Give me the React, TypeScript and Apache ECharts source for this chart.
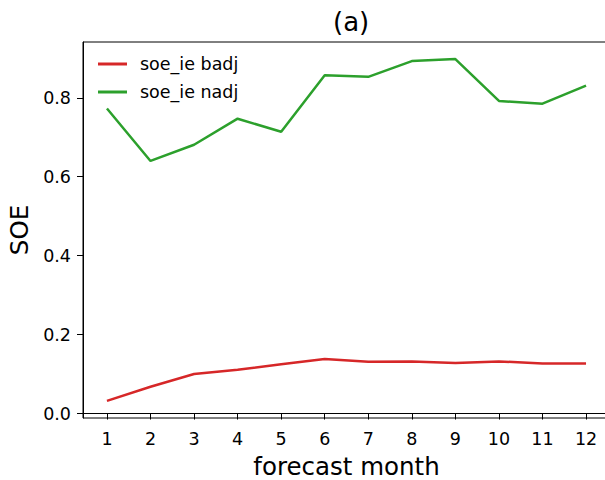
import React, { useEffect, useRef } from "react";
import * as echarts from "echarts";

const months = [1, 2, 3, 4, 5, 6, 7, 8, 9, 10, 11, 12];
const badj = [0.032, 0.068, 0.1, 0.111, 0.125, 0.138, 0.131, 0.132, 0.128, 0.132, 0.127, 0.127];
const nadj = [0.773, 0.64, 0.681, 0.747, 0.714, 0.857, 0.853, 0.893, 0.898, 0.792, 0.785, 0.831];
const yTicks = [0, 0.2, 0.4, 0.6, 0.8];
const seriesNames = ["soe_ie badj", "soe_ie nadj"];

const FONT = "DejaVu Sans";

export default function App() {
  const ref = useRef<HTMLDivElement>(null);
  useEffect(() => {
    if (!ref.current) return;
    const chart = echarts.init(ref.current, null, { renderer: "svg" });
    chart.setOption({
      animation: false,
      backgroundColor: "#ffffff",
      textStyle: { fontFamily: FONT },
      title: {
        text: "(a)",
        left: 328,
        top: 4,
        textStyle: { fontFamily: FONT, fontSize: 26, fontWeight: "normal", color: "#000" },
      },
      legend: {
        orient: "vertical",
        left: 98,
        top: 55,
        padding: 0,
        icon: "rect",
        itemWidth: 29,
        itemHeight: 3,
        itemGap: 10,
        data: seriesNames,
        textStyle: { fontFamily: FONT, fontSize: 17.5, color: "#000", padding: [0, 0, 0, 8] },
      },
      grid: {
        left: 83,
        top: 42,
        width: 527,
        height: 376,
        show: true,
        borderColor: "#000",
        borderWidth: 1,
        containLabel: false,
        outerBoundsMode: "none",
      },
      xAxis: {
        type: "value",
        min: 0.45,
        max: 12.55,
        name: "forecast month",
        nameLocation: "middle",
        nameGap: 36,
        nameTextStyle: { fontFamily: FONT, fontSize: 24.5, color: "#000" },
        axisLine: { show: true, lineStyle: { color: "#000", width: 1 } },
        axisTick: { show: true, length: 6, customValues: months, lineStyle: { color: "#000" } },
        axisLabel: {
          customValues: months,
          margin: 12,
          fontFamily: FONT,
          fontSize: 17.5,
          color: "#000",
          formatter: (v: number) => String(Math.round(v)),
        },
        splitLine: { show: false },
      },
      yAxis: {
        type: "value",
        min: -0.0113,
        max: 0.9413,
        name: "SOE",
        nameLocation: "middle",
        nameGap: 50,
        nameTextStyle: { fontFamily: FONT, fontSize: 24.5, color: "#000" },
        axisLine: { show: true, lineStyle: { color: "#000", width: 1 } },
        axisTick: { show: true, length: 6, customValues: yTicks, lineStyle: { color: "#000" } },
        axisLabel: {
          customValues: yTicks,
          margin: 12,
          fontFamily: FONT,
          fontSize: 17.5,
          color: "#000",
          formatter: (v: number) => v.toFixed(1),
        },
        splitLine: { show: false },
      },
      series: [
        {
          name: seriesNames[0],
          type: "line",
          symbol: "none",
          data: months.map((m, i) => [m, badj[i]]),
          lineStyle: { color: "#d62728", width: 2.5 },
          itemStyle: { color: "#d62728" },
        },
        {
          name: seriesNames[1],
          type: "line",
          symbol: "none",
          data: months.map((m, i) => [m, nadj[i]]),
          lineStyle: { color: "#2ca02c", width: 2.5 },
          itemStyle: { color: "#2ca02c" },
        },
      ],
    });
    return () => chart.dispose();
  }, []);
  return (
    <div
      ref={ref}
      style={{ position: "fixed", left: 0, top: 0, width: 605, height: 480 }}
    />
  );
}
